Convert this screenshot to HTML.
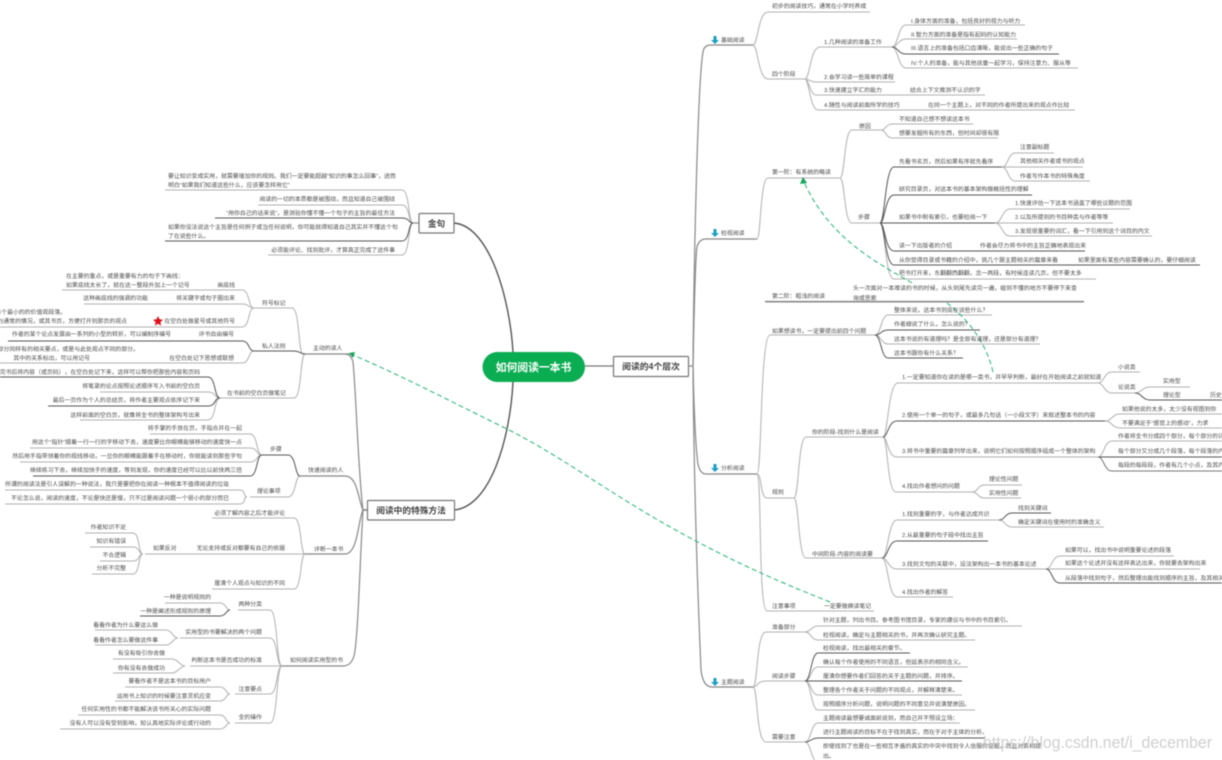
<!DOCTYPE html>
<html lang="zh"><head><meta charset="utf-8"><title>如何阅读一本书</title>
<style>
html,body{margin:0;padding:0;background:#fff;width:1222px;height:760px;overflow:hidden}
svg{display:block;filter:blur(.45px)}
text{font-family:"Liberation Sans","Noto Sans CJK SC",sans-serif;font-size:5.9px;fill:#4a4a4a}
.e{text-anchor:end}
.l{fill:none;stroke:#b0b0b0;stroke-width:1}
.d{fill:none;stroke:#555;stroke-width:1}
.m{fill:none;stroke:#888;stroke-width:1.2}
</style></head><body>
<svg width="1222" height="760" viewBox="0 0 1222 760" xmlns="http://www.w3.org/2000/svg">
<rect width="1222" height="760" fill="#fff"/>
<!-- main connectors -->
<g fill="none" stroke="#555" stroke-width="1.4">
<path d="M454 223C490 226 510 300 513 352"/>
<path d="M513 382C510 440 490 507 454 510"/>
</g>
<path d="M585 366H613" fill="none" stroke="#777" stroke-width="1.2"/>
<g class="m">
<path class="m" d="M689 366H693"/>
<path class="m" d="M693 366C694 250 698 80 703 52Q704 45 711 45H753"/>
<path class="m" d="M693 366C694 320 695 260 697 247Q699 239 706 239H757"/>
<path class="m" d="M693 366C694 410 696 450 698 464Q700 474 706 474H757"/>
<path class="m" d="M693 366C694 500 698 600 701 670Q703 687 712 687H753"/>
<path class="m" d="M367 510H363C358 470 356 390 353 362Q351 354 345 354"/>
<path class="m" d="M367 510H363C358 500 358 476 345 476"/>
<path class="m" d="M367 510H363C358 520 358 554 345 554"/>
<path class="m" d="M367 510H363C360 560 358 640 354 656Q351 666 343 666"/>
<path class="m" d="M303 354H350" stroke-width="1.6"/>
<path class="m" d="M300 476H345"/>
<path class="m" d="M305 554H345"/>
<path class="m" d="M282 666H343"/>
<path class="m" d="M413 223H419"/>
</g>
<!-- right side light lines -->
<g class="l">
<path d="M753 45C758 45 758 12 768 12H870"/>
<path d="M753 45C758 45 758 79 768 79H805"/>
<path d="M805 79C810 79 810 47 820 47H892"/>
<path d="M805 79C809 79 810 82 816 82H895"/>
<path d="M805 79C809 79 810 95 816 95H985"/>
<path d="M805 79C809 79 810 110 818 110H1075"/>
<path d="M892 47C898 47 898 25 906 25H1025"/>
<path d="M892 47C898 47 898 39 906 39H1017"/>
<path d="M892 47C898 47 898 68 906 68H1078"/>
<path d="M757 239C761 239 760 178 768 178H840"/>
<path d="M840 178C845 178 844 130 852 130H881"/>
<path d="M840 178C845 178 844 223 852 223H880"/>
<path d="M881 130C886 130 886 124 892 124H973"/>
<path d="M881 130C886 130 886 138 892 138H998"/>
<path d="M880 223C885 223 885 279 894 279H1096"/>
<path d="M1002 167C1008 167 1008 153 1015 153H1054"/>
<path d="M1002 167C1008 167 1008 167 1015 167H1083"/>
<path d="M1002 167C1008 167 1008 181 1015 181H1090"/>
<path d="M995 223C1002 223 1002 209 1010 209H1130"/>
<path d="M995 223C1002 223 1002 223 1010 223H1113"/>
<path d="M995 223C1002 223 1002 236 1010 236H1152"/>
<path d="M757 474C762 474 760 335 770 335H875"/>
<path d="M875 335C881 335 881 315 888 315H992"/>
<path d="M875 335C881 335 881 344 888 344H1040"/>
<path d="M757 474C762 474 760 498 767 498H794"/>
<path d="M757 474C762 474 758 611 767 611H874"/>
<path d="M794 498C799 498 798 437 806 437H883"/>
<path d="M794 498C799 498 798 558 806 558H882"/>
<path d="M883 437C888 437 888 383 898 383H1098"/>
<path d="M883 437C888 437 887 457 897 457H1098"/>
<path d="M883 437C888 437 887 492 896 492H972"/>
<path d="M1098 383C1104 383 1104 372 1112 372H1140"/>
<path d="M1098 383C1104 383 1104 393 1112 393H1135"/>
<path d="M1135 393C1142 393 1142 387 1150 387H1190"/>
<path d="M1105 421C1112 421 1112 414 1120 414H1222"/>
<path d="M1105 421C1112 421 1112 428 1120 428H1222"/>
<path d="M1098 457C1104 457 1104 441 1112 441H1222"/>
<path d="M972 492C978 492 978 485 984 485H1022"/>
<path d="M972 492C978 492 978 498 984 498H1021"/>
<path d="M882 558C888 558 888 520 897 520H999"/>
<path d="M882 558C888 558 888 569 897 569H1046"/>
<path d="M882 558C888 558 888 597 897 597H953"/>
<path d="M999 520C1005 520 1005 527 1012 527H1104"/>
<path d="M1046 569C1052 569 1052 556 1060 556H1174"/>
<path d="M1046 569C1052 569 1052 569 1060 569H1200"/>
<path d="M753 687C758 687 756 632 766 632H805"/>
<path d="M753 687C758 687 757 681 766 681H805"/>
<path d="M753 687C758 687 756 742 766 742H805"/>
<path d="M805 632C811 632 811 626 818 626H1022"/>
<path d="M805 632C811 632 811 640 818 640H975"/>
<path d="M805 681C811 681 811 667 818 667H968"/>
<path d="M805 681C811 681 811 695 818 695H962"/>
<path d="M805 681C811 681 811 710 818 710H975"/>
<path d="M805 742C811 742 811 723 818 723H960"/>
<path d="M805 742C811 742 811 762 818 762"/>
<!-- left side light lines -->
<path d="M413 223C408 223 410 190 402 190H165"/>
<path d="M413 223C408 223 410 205 402 205H258"/>
<path d="M413 223C408 223 410 255 402 255H268"/>
<path d="M303 354C298 354 300 308 292 308H254"/>
<path d="M305 354C300 354 302 398 294 398H220"/>
<path d="M254 308C248 308 250 290 242 290H62"/>
<path d="M254 308C248 308 250 304 242 304H84"/>
<path d="M254 308C248 308 250 327 242 327H0"/>
<path d="M254 351C248 351 250 363 242 363H0"/>
<path d="M220 398C214 398 216 392 208 392H100"/>
<path d="M220 398C214 398 216 420 208 420H80"/>
<path d="M300 476C295 476 296 497 288 497H250"/>
<path d="M262 455C256 455 258 434 250 434H150"/>
<path d="M262 455C256 455 258 448 250 448H30"/>
<path d="M262 455C256 455 258 462 250 462H20"/>
<path d="M247 497C243 497 246 490 240 490H5"/>
<path d="M247 497C243 497 246 504 240 504H5"/>
<path d="M305 554C300 554 302 518 294 518H212"/>
<path d="M305 554C300 554 302 589 294 589H212"/>
<path d="M305 554H145"/>
<path d="M143 554C138 554 140 533 133 533H85"/>
<path d="M143 554C138 554 140 547 133 547H90"/>
<path d="M143 554C138 554 140 561 133 561H100"/>
<path d="M143 554C138 554 140 574 133 574H92"/>
<path d="M282 666C276 666 278 610 270 610H238"/>
<path d="M282 666C276 666 278 638 270 638H180"/>
<path d="M282 666H190"/>
<path d="M282 666C276 666 278 694 270 694H235"/>
<path d="M282 666C276 666 278 723 270 723H235"/>
<path d="M230 610C226 610 226 603 220 603H165"/>
<path d="M178 638C173 638 172 630 166 630H95"/>
<path d="M178 638C173 638 172 645 166 645H95"/>
<path d="M185 666C180 666 178 659 172 659H113"/>
<path d="M185 666C180 666 178 673 172 673H113"/>
<path d="M230 694C226 694 226 687 220 687H125"/>
<path d="M230 694C226 694 226 701 220 701H115"/>
<path d="M230 723C226 723 226 715 220 715H78"/>
<path d="M230 723C226 723 226 729 220 729H60"/>
</g>
<!-- dark lines -->
<g class="d">
<path d="M892 47C898 47 898 54 906 54H1059"/>
<path d="M880 223C885 223 885 167 894 167H1002"/>
<path d="M880 223C885 223 885 195 894 195H1032"/>
<path d="M880 223H995"/>
<path d="M880 223C885 223 885 251 894 251H1085"/>
<path d="M880 223C885 223 885 265 894 265H1200"/>
<path d="M875 335C881 335 881 330 888 330H980"/>
<path d="M875 335C881 335 881 358 888 358H963"/>
<path d="M883 437C888 437 888 421 897 421H1105"/>
<path d="M1135 393C1142 393 1142 400 1150 400H1222"/>
<path d="M1098 457H1222"/>
<path d="M1098 457C1104 457 1104 471 1112 471H1222" stroke="#777"/>
<path d="M882 558C888 558 888 541 897 541H988"/>
<path d="M999 520C1005 520 1005 513 1012 513H1051"/>
<path d="M1046 569C1052 569 1052 583 1060 583H1222"/>
<path d="M805 681C811 681 811 653 818 653H910"/>
<path d="M805 681H962"/>
<path d="M805 742C811 742 811 738 818 738H985"/>
<path d="M305 354C300 354 300 351 294 351H254"/>
<path d="M254 351C248 351 250 341 242 341H8"/>
<path d="M220 398C214 398 216 377 208 377H0"/>
<path d="M220 398C214 398 216 406 208 406H48"/>
<path d="M262 455C256 455 258 476 250 476H33"/>
<path d="M300 476C295 476 296 455 288 455H262"/>
<path d="M413 223C408 223 410 218 402 218H215"/>
<path d="M413 223C408 223 410 241 402 241H165"/>
<path d="M230 610C226 610 226 616 220 616H140"/>
</g>
<path d="M765 301.7H1084" fill="none" stroke="#888" stroke-width="1.6"/>
<!-- green relations -->
<g fill="none" stroke="#22b573" stroke-width="1" stroke-dasharray="5 3">
<path d="M830 602C790 586 740 566 672 528S560 455 503 427S400 375 353 355"/>
<path d="M912 283C880 264 830 240 804 182"/>
<path d="M993 372C988 350 975 325 947 303"/>
</g>
<path d="M349 353L355 352 353 358Z" fill="#13a75b"/>
<path d="M803 177L807 183 800 184Z" fill="#13a75b"/>
<!-- central nodes -->
<rect x="482.500" y="352" width="102.500" height="30" rx="15" fill="#0bad52"/>
<text x="533.500" y="371" text-anchor="middle" style="font-size:10.800px;font-weight:bold;fill:#fff">如何阅读一本书</text>
<rect x="613.500" y="356.500" width="75" height="20" rx="1" fill="#fff" stroke="#777" stroke-width="1.200"/>
<text x="651" y="369.500" text-anchor="middle" style="font-size:8.800px;font-weight:bold;fill:#444">阅读的4个层次</text>
<rect x="419" y="213.500" width="35" height="19.500" rx="1" fill="#fff" stroke="#777" stroke-width="1.200"/>
<text x="436.500" y="226.500" text-anchor="middle" style="font-size:8.700px;font-weight:bold;fill:#444">金句</text>
<rect x="367.500" y="500.500" width="87" height="19.500" rx="1" fill="#fff" stroke="#777" stroke-width="1.200"/>
<text x="411" y="513.500" text-anchor="middle" style="font-size:8.700px;font-weight:bold;fill:#444">阅读中的特殊方法</text>
<!-- icons -->
<g fill="#1b9fc6">
<path d="M713.500 36h3v4h2.500l-4 4-4-4h2.500z"/>
<path d="M713.500 229h3v4h2.500l-4 4-4-4h2.500z"/>
<path d="M713.500 464h3v4h2.500l-4 4-4-4h2.500z"/>
<path d="M713.500 678h3v4h2.500l-4 4-4-4h2.500z"/>
</g>
<path d="M158 316l1.500 3.300 3.500.4-2.600 2.400.7 3.500-3.100-1.800-3.100 1.800.7-3.500-2.600-2.400 3.500-.4z" fill="#e0101a"/>
<!-- right text -->
<g>
<text x="721" y="42">基础阅读</text>
<text x="772" y="8">初步的阅读技巧，通常在小学时养成</text>
<text x="772" y="76">四个阶段</text>
<text x="824" y="44">1.几种阅读的准备工作</text>
<text x="911" y="23">I.身体方面的准备，包括良好的视力与听力</text>
<text x="911" y="36.500">II.智力方面的准备是指有起码的认知能力</text>
<text x="911" y="50">III.语言上的准备包括口齿清晰，能说出一些正确的句子</text>
<text x="911" y="65">IV.个人的准备，能与其他孩童一起学习，保持注意力、服从等</text>
<text x="824" y="79">2.会学习读一些简单的课程</text>
<text x="824" y="92">3.快速建立字汇的能力</text>
<text x="910" y="92">结合上下文推测不认识的字</text>
<text x="824" y="107">4.随性与阅读前面所学的技巧</text>
<text x="928" y="107">在同一个主题上，对不同的作者所提出来的观点作比较</text>
<text x="721" y="235">检视阅读</text>
<text x="772" y="174">第一阶：有系统的略读</text>
<text x="859" y="128">原因</text>
<text x="899" y="121">不知道自己想不想读这本书</text>
<text x="899" y="135">想要发掘所有的东西，但时间却很有限</text>
<text x="858" y="219">步骤</text>
<text x="899" y="163.500">先看书名页，然后如果有序就先看序</text>
<text x="1020" y="149">注意副标题</text>
<text x="1020" y="163">其他相关作者或书的观点</text>
<text x="1020" y="178">作者写作本书的特殊角度</text>
<text x="899" y="191">研究目录页，对这本书的基本架构做概括性的理解</text>
<text x="899" y="219">如果书中附有索引，也要检阅一下</text>
<text x="1015" y="205">1.快速评估一下这本书涵盖了哪些议题的范围</text>
<text x="1015" y="219">2.以及所提到的书目种类与作者等等</text>
<text x="1015" y="233">3.发现很重要的词汇，看一下引用到这个词目的内文</text>
<text x="899" y="247.500">读一下出版者的介绍</text>
<text x="980" y="247.500">作者会尽力将书中的主旨正确地表现出来</text>
<text x="899" y="262">从你觉得目录或书籍的介绍中，挑几个跟主题相关的篇章来看</text>
<text x="1078" y="262">如果里面有某些内容需要确认的，要仔细阅读</text>
<text x="899" y="275">把书打开来，东翻翻西翻翻，念一两段，有时候连读几页，但不要太多</text>
<text x="772" y="298">第二阶：粗浅的阅读</text>
<text x="853" y="290">头一次面对一本难读的书的时候，从头到尾先读完一遍，碰到不懂的地方不要停下来查</text>
<text x="853" y="300">询或思索</text>
<text x="721" y="470">分析阅读</text>
<text x="772" y="333">如果想读书，一定要提出前四个问题</text>
<text x="894" y="312">整体来说，这本书到底在谈些什么？</text>
<text x="894" y="326">作者细说了什么，怎么说的？</text>
<text x="894" y="341">这本书说的有道理吗？是全部有道理，还是部分有道理？</text>
<text x="894" y="355">这本书跟你有什么关系？</text>
<text x="772" y="494">规则</text>
<text x="812" y="434">你的阶段-找到什么是阅读</text>
<text x="902" y="379">1.一定要知道你在读的是哪一类书，并早早判断，最好在开始阅读之前就知道</text>
<text x="1118" y="369">小说类</text>
<text x="1118" y="389">论说类</text>
<text x="1163" y="383">实用型</text>
<text x="1163" y="397">理论型</text>
<text x="1210" y="397">历史</text>
<text x="902" y="417">2.使用一个单一的句子，或最多几句话（一小段文字）来叙述整本书的内容</text>
<text x="1122" y="411">如果他说的太多，太少没有视图到你</text>
<text x="1122" y="425">不要满足于“感觉上的感动”，力求</text>
<text x="902" y="453">3.将书中重要的篇章列举出来，说明它们如何按照顺序组成一个整体的架构</text>
<text x="1118" y="438">作者将全书分成四个部分，每个部分的详</text>
<text x="1118" y="453">每个部分又分成几个段落，每个段落的内容</text>
<text x="1118" y="467">每段的每段段，作者有几个小点，及其内容</text>
<text x="902" y="488">4.找出作者想问的问题</text>
<text x="989" y="481">理论性问题</text>
<text x="989" y="495">实用性问题</text>
<text x="812" y="556">中间阶段-内容的阅读要</text>
<text x="902" y="516">1.找到重要的字，与作者达成共识</text>
<text x="1018" y="510">找到关键词</text>
<text x="1018" y="524">确定关键词在使用时的准确含义</text>
<text x="902" y="537">2.从最重要的句子段中找出主旨</text>
<text x="902" y="566">3.找到文句的关联中，设法架构出一本书的基本论述</text>
<text x="1065" y="552">如果可以，找出书中说明重要论述的段落</text>
<text x="1065" y="565">如果这个论述并没有这样表达出来，你就要去架构出来</text>
<text x="1065" y="580">从段落中找到句子，然后整理出能找到顺序的主旨，及其相关的</text>
<text x="902" y="594">4.找出作者的解答</text>
<text x="772" y="608">注意事项</text>
<text x="824" y="608">一定要做摘读笔记</text>
<text x="721" y="684">主题阅读</text>
<text x="772" y="629">准备部分</text>
<text x="823" y="622">针对主题，列出书目。参考图书馆目录，专家的建议与书中的书目索引。</text>
<text x="823" y="637">检视阅读，确定与主题相关的书，并再次确认研究主题。</text>
<text x="772" y="678">阅读步骤</text>
<text x="823" y="650">检视阅读，找出最相关的章节。</text>
<text x="823" y="664">确认每个作者使用的不同语言，但延表示的相同含义。</text>
<text x="823" y="678">厘清你想要作者们回答的关于主题的问题，并排序。</text>
<text x="823" y="692">整理各个作者关于问题的不同观点，并解释清楚来。</text>
<text x="823" y="706">按照顺序分析问题，说明问题的不同意见并说清楚原因。</text>
<text x="772" y="739">需要注意</text>
<text x="823" y="720">主题阅读最想要诚面前说到，而自己并不预设立场：</text>
<text x="823" y="734">进行主题阅读的目标不在于找到真实，而在于对于主体的分析。</text>
<text x="823" y="748">即使找到了也是在一些相互矛盾的真实的中突中找到令人信服的证据，而且对真相提</text>
<text x="823" y="758">出。</text>
</g>
<!-- left text -->
<g>
<text x="168" y="178">要让知识变成实用，就需要增加你的规则。我们一定要能超越“知识的事怎么回事”，进而</text>
<text x="168" y="187">明白“如果我们知道这些什么，应该要怎样用它”</text>
<text class="e" x="395" y="201">阅读的一切的本质都是被围绕，而且知道自己被围绕</text>
<text class="e" x="395" y="215">“用你自己的话来说”，是测验你懂不懂一个句子的主旨的最佳方法</text>
<text x="168" y="229">如果你没法说这个主旨是任何例子或当任何说明，你可能就得知道自己其实并不懂这个句</text>
<text x="168" y="238">了在说些什么。</text>
<text class="e" x="395" y="252">必须能评论、找到批评，才算真正完成了这件事</text>
<text x="313" y="350">主动的读人</text>
<text x="262" y="305">符号标记</text>
<text x="66" y="278">在主要的重点，或是重要有力的句子下画线：</text>
<text x="66" y="287">如果底线太长了，就在这一整段外加上一个记号</text>
<text class="e" x="235" y="287">画底线</text>
<text class="e" x="235" y="300">将关键字或句子圈出来</text>
<text class="e" x="148" y="300">这种画底线的强调的功能</text>
<text class="e" x="235" y="323">在空白处做星号或其他符号</text>
<text class="e" x="66" y="314">每个最小的的价值观段落。</text>
<text class="e" x="127" y="323">可能为通常的情况，或其书页，方便打开到那页的观点</text>
<text x="262" y="348">私人法则</text>
<text class="e" x="234" y="336">评书自由编号</text>
<text class="e" x="171" y="336">作者的某个论点发展由一系列的小型的转折，可以编制序编号</text>
<text class="e" x="234" y="360">在空白处记下思想或联想</text>
<text class="e" x="139" y="351">书的其他部分同样有的相关要点，或是与此处观点不同的部分。</text>
<text class="e" x="90" y="360">其中的关系标出，可以用记号</text>
<text x="227" y="395">在书前的空白页做笔记</text>
<text class="e" x="200" y="374">看完书后将内容（或页码），在空白处记下来，这样可以帮你把那些内容和页码</text>
<text class="e" x="200" y="388">将笔录的论点按照论述顺序写入书前的空白页</text>
<text class="e" x="200" y="402">最后一页作为个人的总结页，将作者主要观点依序记下来</text>
<text class="e" x="200" y="417">这样前面的空白页，就像将全书的整体架构写出来</text>
<text x="308" y="472">快速阅读的人</text>
<text x="270" y="451">步骤</text>
<text class="e" x="242" y="430">将手掌的手放在页，手指合并在一起</text>
<text class="e" x="242" y="444">用这个“指针”顺着一行一行的字移动下去，速度要比你眼睛能够移动的速度快一点</text>
<text class="e" x="242" y="458">然后用手指带领着你的视线移动，一旦你的眼睛能跟着手在移动时，你就能读到那些字句</text>
<text class="e" x="242" y="472">继续练习下去，继续加快手的速度，等到发现，你的速度已经可以比以前快两三倍</text>
<text x="257" y="493">理论事项</text>
<text class="e" x="229" y="486">所谓的阅读法是引人误解的一种说法，我只是要把你在阅读一种根本不值得阅读的垃圾</text>
<text class="e" x="229" y="500">不论怎么说，阅读的速度，不论是快还是慢，只不过是阅读问题一个很小的部分而已</text>
<text x="314" y="551">评断一本书</text>
<text class="e" x="285" y="515">必须了解内容之后才能评论</text>
<text class="e" x="285" y="550">无论支持或反对都要有自己的依据</text>
<text x="153" y="550">如果反对</text>
<text class="e" x="126" y="529">作者知识不足</text>
<text class="e" x="126" y="543">知识有错误</text>
<text class="e" x="126" y="557">不合逻辑</text>
<text class="e" x="126" y="570">分析不完整</text>
<text class="e" x="285" y="585">厘清个人观点与知识的不同</text>
<text x="290" y="662">如何阅读实用型的书</text>
<text class="e" x="262" y="606">两种分类</text>
<text class="e" x="211" y="599">一种是说明规则的</text>
<text class="e" x="211" y="613">一种是阐述形成规则的原理</text>
<text class="e" x="262" y="634">实用型的书要解决的两个问题</text>
<text class="e" x="158" y="627">看看作者为什么要这么做</text>
<text class="e" x="158" y="642">看看作者怎么要做这件事</text>
<text class="e" x="262" y="662">判断这本书是否成功的标准</text>
<text class="e" x="165" y="655">有没有吸引你去做</text>
<text class="e" x="165" y="670">你有没有去做成功</text>
<text class="e" x="262" y="691">注意要点</text>
<text class="e" x="211" y="683">要看作者不是这本书的目标用户</text>
<text class="e" x="211" y="698">运用书上知识的时候要注意灵机应变</text>
<text class="e" x="262" y="719">全的操作</text>
<text class="e" x="211" y="711">任何实用性的书都不能解决该书所关心的实际问题</text>
<text class="e" x="211" y="725">没有人可以没有受到影响，知认真地实际评论或行动的</text>
</g>
<text x="983" y="748" textLength="229" lengthAdjust="spacingAndGlyphs" style="font-size:17px;fill:#c4c4c4;opacity:.8">https://blog.csdn.net/i_december</text>
</svg>
</body></html>
